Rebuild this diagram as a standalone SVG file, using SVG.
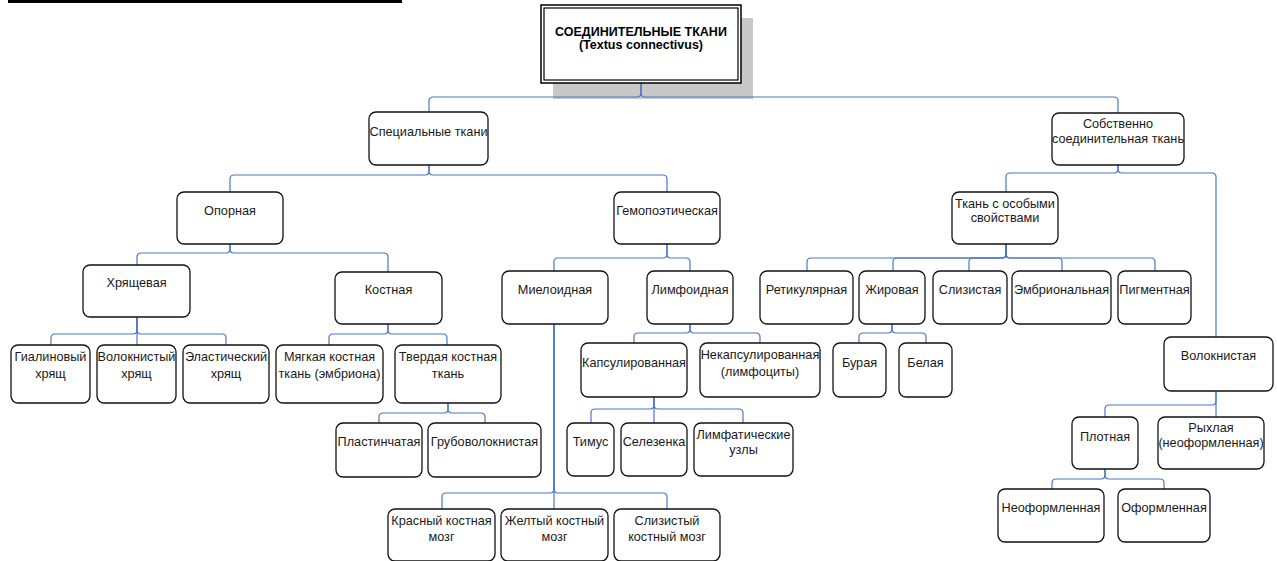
<svg xmlns="http://www.w3.org/2000/svg" width="1277" height="561" viewBox="0 0 1277 561">
<style>
.n rect{fill:#fff;stroke:#111;stroke-width:1.3}
text{font-family:"Liberation Sans",Arial,sans-serif;font-size:12.7px;fill:#1a1a1a;text-anchor:middle}
.b{font-weight:bold;fill:#000;font-size:12.5px}
#connectors path{fill:none;stroke:#4a78c2;stroke-width:1.2}
</style>
<rect x="8" y="0" width="394" height="3" fill="#000"/>
<rect x="553" y="18" width="200" height="81" fill="#c8c8c8"/>
<g id="connectors">
<path d="M641,83 V93 Q641,97 637,97 H433 Q429,97 429,101 V112"/>
<path d="M641,83 V93 Q641,97 645,97 H1114 Q1118,97 1118,101 V113"/>
<path d="M429,165 V171 Q429,175 425,175 H234 Q230,175 230,179 V192"/>
<path d="M429,165 V171 Q429,175 433,175 H663 Q667,175 667,179 V192"/>
<path d="M230,244 V249 Q230,253 226,253 H141 Q137,253 137,257 V265"/>
<path d="M230,244 V249 Q230,253 234,253 H384 Q388,253 388,257 V272"/>
<path d="M667,244 V254 Q667,258 663,258 H558 Q554,258 554,262 V271"/>
<path d="M667,244 V254 Q667,258 671,258 H686 Q690,258 690,262 V271"/>
<path d="M1118,165 V169 Q1118,173 1114,173 H1010 Q1006,173 1006,177 V192"/>
<path d="M1118,165 V169 Q1118,173 1122,173 H1212 Q1216,173 1216,177 V337"/>
<path d="M1006,244 V254 Q1006,258 1002,258 H811 Q807,258 807,262 V271"/>
<path d="M1006,244 V254 Q1006,258 1002,258 H897 Q893,258 893,262 V271"/>
<path d="M1006,244 V254 Q1006,258 1002,258 H973 Q969,258 969,262 V271"/>
<path d="M1006,244 V254 Q1006,258 1010,258 H1058 Q1062,258 1062,262 V271"/>
<path d="M1006,244 V254 Q1006,258 1010,258 H1151 Q1155,258 1155,262 V271"/>
<path d="M137,317 V330 Q137,334 133,334 H55 Q51,334 51,338 V345"/>
<path d="M137,317 V345"/>
<path d="M137,317 V330 Q137,334 141,334 H222 Q226,334 226,338 V345"/>
<path d="M388,324 V330 Q388,334 384,334 H333 Q329,334 329,338 V345"/>
<path d="M388,324 V330 Q388,334 392,334 H443 Q447,334 447,338 V345"/>
<path d="M448,403 V409 Q448,413 444,413 H383 Q379,413 379,417 V423"/>
<path d="M448,403 V409 Q448,413 452,413 H481 Q485,413 485,417 V423"/>
<path d="M690,324 V329 Q690,333 686,333 H638 Q634,333 634,337 V343"/>
<path d="M690,324 V329 Q690,333 694,333 H756 Q760,333 760,337 V343"/>
<path d="M892,324 V329 Q892,333 888,333 H863 Q859,333 859,337 V343"/>
<path d="M892,324 V329 Q892,333 896,333 H922 Q926,333 926,337 V343"/>
<path d="M654,397 V405 Q654,409 650,409 H595 Q591,409 591,413 V423"/>
<path d="M654,397 V423"/>
<path d="M654,397 V405 Q654,409 658,409 H739 Q743,409 743,413 V423"/>
<path d="M554,324 V489 Q554,493 550,493 H446 Q442,493 442,497 V509"/>
<path d="M554,324 V509"/>
<path d="M554,324 V489 Q554,493 558,493 H663 Q667,493 667,497 V509"/>
<path d="M1216,391 V401 Q1216,405 1212,405 H1109 Q1105,405 1105,409 V417"/>
<path d="M1216,391 V417"/>
<path d="M1105,469 V475 Q1105,479 1101,479 H1056 Q1052,479 1052,483 V489"/>
<path d="M1105,469 V475 Q1105,479 1109,479 H1160 Q1164,479 1164,483 V489"/>
</g>
<g id="root">
<rect x="541" y="5" width="200" height="78" fill="#fff" stroke="#000" stroke-width="1.5"/>
<rect x="544" y="8" width="194" height="72" fill="none" stroke="#000" stroke-width="1.2"/>
<text class="b" x="641" y="36">СОЕДИНИТЕЛЬНЫЕ ТКАНИ</text>
<text class="b" x="641" y="49">(Textus connectivus)</text>
</g>
<g id="spec" class="n"><rect x="369" y="112" width="119" height="53" rx="7"/><text x="428.5" y="136">Специальные ткани</text></g>
<g id="sobst" class="n"><rect x="1052" y="113" width="132" height="52" rx="7"/><text x="1118" y="128">Собственно</text><text x="1118" y="143">соединительная ткань</text></g>
<g id="opor" class="n"><rect x="177" y="192" width="106" height="52" rx="7"/><text x="230" y="215">Опорная</text></g>
<g id="gemo" class="n"><rect x="614" y="192" width="106" height="52" rx="7"/><text x="667" y="215">Гемопоэтическая</text></g>
<g id="tkan" class="n"><rect x="952" y="192" width="106" height="52" rx="7"/><text x="1005" y="208">Ткань с особыми</text><text x="1005" y="222">свойствами</text></g>
<g id="hrya" class="n"><rect x="83" y="265" width="107" height="52" rx="7"/><text x="136.5" y="287">Хрящевая</text></g>
<g id="kost" class="n"><rect x="335" y="272" width="107" height="52" rx="7"/><text x="388.5" y="294">Костная</text></g>
<g id="miel" class="n"><rect x="502" y="271" width="106" height="53" rx="7"/><text x="555" y="294">Миелоидная</text></g>
<g id="limf" class="n"><rect x="647" y="271" width="86" height="53" rx="7"/><text x="690" y="294">Лимфоидная</text></g>
<g id="retik" class="n"><rect x="760" y="271" width="93" height="53" rx="7"/><text x="806.5" y="294">Ретикулярная</text></g>
<g id="zhir" class="n"><rect x="859" y="271" width="66" height="53" rx="7"/><text x="892" y="294">Жировая</text></g>
<g id="sliz" class="n"><rect x="933" y="271" width="74" height="53" rx="7"/><text x="970" y="294">Слизистая</text></g>
<g id="embr" class="n"><rect x="1012" y="271" width="99" height="53" rx="7"/><text x="1061.5" y="294">Эмбриональная</text></g>
<g id="pigm" class="n"><rect x="1118" y="271" width="73" height="53" rx="7"/><text x="1154.5" y="294">Пигментная</text></g>
<g id="gial" class="n"><rect x="11" y="345" width="79" height="58" rx="7"/><text x="50.5" y="361">Гиалиновый</text><text x="50.5" y="378">хрящ</text></g>
<g id="volokh" class="n"><rect x="97" y="345" width="79" height="58" rx="7"/><text x="136.5" y="361">Волокнистый</text><text x="136.5" y="378">хрящ</text></g>
<g id="elast" class="n"><rect x="183" y="345" width="86" height="58" rx="7"/><text x="226" y="361">Эластический</text><text x="226" y="378">хрящ</text></g>
<g id="myagk" class="n"><rect x="276" y="345" width="107" height="58" rx="7"/><text x="329.5" y="361">Мягкая костная</text><text x="329.5" y="378">ткань (эмбриона)</text></g>
<g id="tverd" class="n"><rect x="395" y="345" width="106" height="58" rx="7"/><text x="448" y="361">Твердая костная</text><text x="448" y="378">ткань</text></g>
<g id="plast" class="n"><rect x="336" y="423" width="86" height="54" rx="7"/><text x="379" y="446">Пластинчатая</text></g>
<g id="grub" class="n"><rect x="428" y="423" width="113" height="54" rx="7"/><text x="484.5" y="446">Грубоволокнистая</text></g>
<g id="kaps" class="n"><rect x="581" y="343" width="106" height="54" rx="7"/><text x="634" y="367">Капсулированная</text></g>
<g id="nekaps" class="n"><rect x="700" y="343" width="120" height="54" rx="7"/><text x="760" y="359">Некапсулированная</text><text x="760" y="376">(лимфоциты)</text></g>
<g id="bur" class="n"><rect x="833" y="343" width="53" height="54" rx="7"/><text x="859.5" y="367">Бурая</text></g>
<g id="bel" class="n"><rect x="899" y="343" width="53" height="54" rx="7"/><text x="925.5" y="367">Белая</text></g>
<g id="timus" class="n"><rect x="567" y="423" width="47" height="53" rx="7"/><text x="590.5" y="446">Тимус</text></g>
<g id="selez" class="n"><rect x="621" y="423" width="66" height="53" rx="7"/><text x="654" y="446">Селезенка</text></g>
<g id="limfuz" class="n"><rect x="694" y="423" width="99" height="53" rx="7"/><text x="743.5" y="439">Лимфатические</text><text x="743.5" y="454">узлы</text></g>
<g id="krasn" class="n"><rect x="388" y="509" width="107" height="52" rx="7"/><text x="441.5" y="525">Красный костная</text><text x="441.5" y="541">мозг</text></g>
<g id="zhelt" class="n"><rect x="501" y="509" width="107" height="52" rx="7"/><text x="554.5" y="525">Желтый костный</text><text x="554.5" y="541">мозг</text></g>
<g id="slizk" class="n"><rect x="614" y="509" width="106" height="52" rx="7"/><text x="667" y="525">Слизистый</text><text x="667" y="541">костный мозг</text></g>
<g id="volokn" class="n"><rect x="1164" y="337" width="109" height="54" rx="7"/><text x="1218.5" y="360">Волокнистая</text></g>
<g id="plotn" class="n"><rect x="1072" y="417" width="66" height="52" rx="7"/><text x="1105" y="441">Плотная</text></g>
<g id="ryhl" class="n"><rect x="1158" y="417" width="106" height="52" rx="7"/><text x="1211" y="432">Рыхлая</text><text x="1211" y="447">(неоформленная)</text></g>
<g id="neof" class="n"><rect x="998" y="489" width="106" height="53" rx="7"/><text x="1051" y="512">Неоформленная</text></g>
<g id="oform" class="n"><rect x="1118" y="489" width="92" height="53" rx="7"/><text x="1164" y="512">Оформленная</text></g>
</svg>
